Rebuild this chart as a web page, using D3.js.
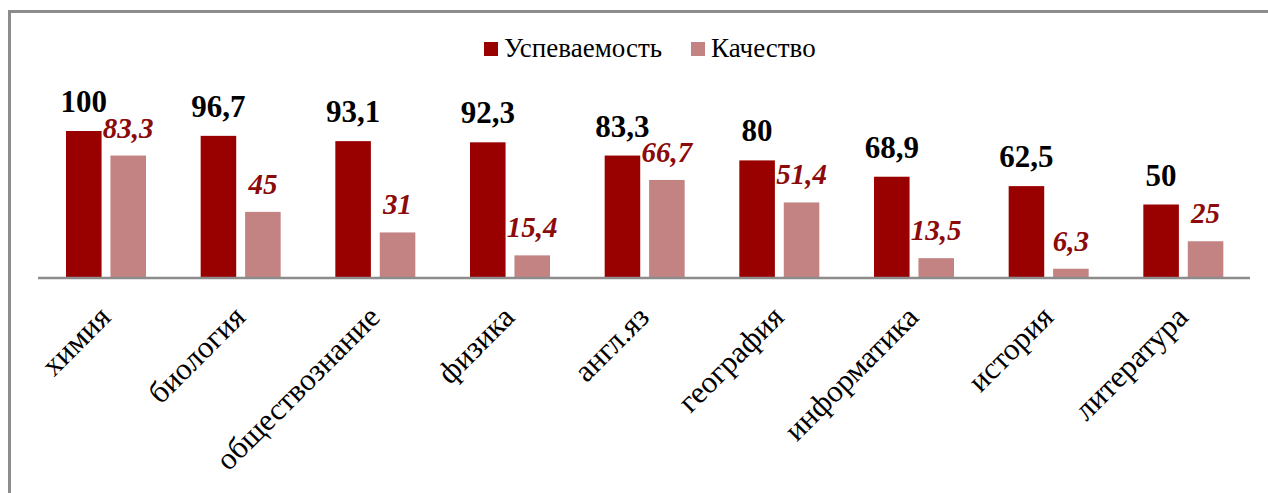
<!DOCTYPE html>
<html>
<head>
<meta charset="utf-8">
<script src="https://cdn.jsdelivr.net/npm/d3@7"></script>
<style>
  body { margin: 0; background: #fff; }
</style>
</head>
<body>
<div class="chart"></div>
<script>
var subjects = ['химия', 'биология', 'обществознание', 'физика', 'англ.яз', 'география', 'информатика', 'история', 'литература'];
var uspevaemost = [100, 96.7, 93.1, 92.3, 83.3, 80, 68.9, 62.5, 50];
var kachestvo = [83.3, 45, 31, 15.4, 66.7, 51.4, 13.5, 6.3, 25];
var seriesNames = ['Успеваемость', 'Качество'];
var seriesColors = ['#990000', '#c48383'];

var W = 1268, H = 493;
var axisY = 278, top100 = 131;
var serif = "'Liberation Serif'";

var svg = d3.select('.chart').append('svg')
    .attr('width', W)
    .attr('height', H);

// outer frame (runs off the right and bottom edge)
svg.append('rect')
    .attr('x', 9.5).attr('y', 11.5)
    .attr('width', W + 20).attr('height', H + 20)
    .attr('fill', 'none')
    .attr('stroke', '#8c8c8c')
    .attr('stroke-width', 3);

var x0 = d3.scaleBand().domain(subjects).range([38, 1250]);
var x1 = d3.scaleBand().domain([0, 1]).range([28, 108]).paddingInner(0.2);
var y = d3.scaleLinear().domain([0, 100]).range([axisY, top100]);

var fmt = function(v){ return String(v).replace('.', ','); };

var rows = subjects.map(function(s, i){
  return { name: s, vals: [uspevaemost[i], kachestvo[i]] };
});

var groups = svg.selectAll('.grp')
    .data(rows)
  .enter().append('g')
    .attr('class', 'grp')
    .attr('transform', function(d){ return 'translate(' + x0(d.name) + ',0)'; });

groups.selectAll('rect')
    .data(function(d){ return d.vals; })
  .enter().append('rect')
    .attr('x', function(d, i){ return x1(i); })
    .attr('y', function(d){ return y(d); })
    .attr('width', x1.bandwidth())
    .attr('height', function(d){ return axisY - y(d); })
    .attr('fill', function(d, i){ return seriesColors[i]; });

groups.selectAll('text.val')
    .data(function(d){ return d.vals; })
  .enter().append('text')
    .attr('class', 'val')
    .style('font-family', serif)
    .attr('x', function(d, i){ return x1(i) + x1.bandwidth() / 2; })
    .attr('y', function(d, i){ return y(d) - (i === 0 ? 19 : 18); })
    .attr('text-anchor', 'middle')
    .style('font-weight', 'bold')
    .style('font-style', function(d, i){ return i === 0 ? 'normal' : 'italic'; })
    .style('font-size', function(d, i){ return (i === 0 ? 31 : 29) + 'px'; })
    .attr('fill', function(d, i){ return i === 0 ? '#000' : '#8b0a0a'; })
    .text(fmt);

// baseline
svg.append('line')
    .attr('x1', 38).attr('x2', 1250)
    .attr('y1', axisY).attr('y2', axisY)
    .attr('stroke', '#8c8c8c')
    .attr('stroke-width', 2.5);

// category labels
svg.selectAll('.cat')
    .data(subjects)
  .enter().append('text')
    .attr('class', 'cat')
    .style('font-family', serif)
    .style('font-size', '31px')
    .attr('text-anchor', 'end')
    .attr('transform', function(d){
      var cx = x0(d) + x0.bandwidth() / 2 + 7;
      return 'translate(' + cx + ',319) rotate(-45)';
    })
    .text(function(d){ return d; });

// legend
var legendX = [484, 691];
var leg = svg.selectAll('.leg')
    .data(seriesNames)
  .enter().append('g')
    .attr('class', 'leg')
    .attr('transform', function(d, i){ return 'translate(' + legendX[i] + ',42)'; });

leg.append('rect')
    .attr('width', 14).attr('height', 14)
    .attr('fill', function(d, i){ return seriesColors[i]; });

leg.append('text')
    .style('font-family', serif)
    .style('font-size', '27px')
    .attr('x', 20).attr('y', 15)
    .text(function(d){ return d; });
</script>
</body>
</html>
